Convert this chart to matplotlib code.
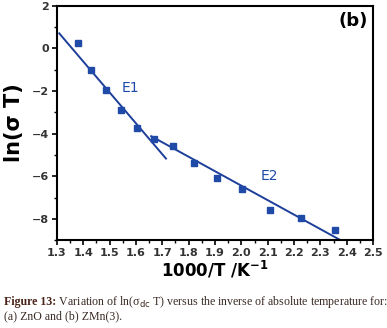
import matplotlib
matplotlib.use("Agg")
import matplotlib.pyplot as plt
import numpy as np
from matplotlib.ticker import MultipleLocator

# data
x_inv_T = [1.38, 1.43, 1.485, 1.542, 1.603, 1.668, 1.742, 1.821, 1.909, 2.004, 2.108, 2.226, 2.357]
ln_sigma_T = [0.24, -1.01, -1.95, -2.89, -3.73, -4.26, -4.59, -5.40, -6.06, -6.61, -7.60, -7.96, -8.51]

# fitted lines (endpoints in data units)
e1_x = [1.309, 1.714]
e1_y = [0.71, -5.17]
e2_x = [1.658, 2.376]
e2_y = [-4.12, -9.0]

blue = "#1f4aa8"
line_blue = "#1d3f9a"

fig = plt.figure(figsize=(3.87, 3.28), dpi=100)
ax = fig.add_axes([0.147, 0.268, 0.817, 0.714])

ax.plot(e1_x, e1_y, color=line_blue, lw=1.4)
ax.plot(e2_x, e2_y, color=line_blue, lw=1.4)
ax.plot(x_inv_T, ln_sigma_T, linestyle="none", marker="s", ms=5, color=blue)

ax.text(1.578, -1.86, "E1", color=blue, fontsize=10, ha="center", va="center")
ax.text(2.107, -5.98, "E2", color=blue, fontsize=10, ha="center", va="center")
ax.text(0.985, 0.975, "(b)", transform=ax.transAxes, fontsize=13, fontweight="bold",
        ha="right", va="top")

ax.set_xlim(1.3, 2.5)
ax.set_ylim(-9, 2)
ax.xaxis.set_major_locator(MultipleLocator(0.1))
ax.xaxis.set_minor_locator(MultipleLocator(0.05))
ax.yaxis.set_major_locator(MultipleLocator(2))
ax.yaxis.set_minor_locator(MultipleLocator(1))
ax.set_xticklabels([f"{v:.1f}" for v in ax.get_xticks()])
ax.tick_params(which="major", length=3.5, width=1.2, labelsize=8, pad=2)
ax.tick_params(which="minor", length=2, width=1.0)
for lab in ax.get_xticklabels() + ax.get_yticklabels():
    lab.set_fontweight("bold")
    lab.set_color("#333333")
for s in ax.spines.values():
    s.set_linewidth(1.5)

ax.set_xlabel("1000/T /K$^{\\mathbf{-1}}$", fontsize=12, fontweight="bold", labelpad=1)
ax.set_ylabel("ln(σ T)", fontsize=15, fontweight="bold", labelpad=6)

t1 = fig.text(0.010, 0.080, "Figure 13:", fontsize=8.6, fontweight="bold", family="Liberation Serif",
              color="#4a2418", va="center")
fig.text(0, 0.5, " Variation of ln(σ$_{\\mathrm{dc}}$ T) versus the inverse of absolute temperature for:",
         fontsize=8.6, family="Liberation Serif", color="#3a2a24", va="center",
         transform=matplotlib.transforms.blended_transform_factory(fig.transFigure, fig.transFigure))
fig.texts[-1].remove()
fig.add_artist(matplotlib.text.Annotation(
    " Variation of ln(σ$_{\\mathrm{dc}}$ T) versus the inverse of absolute temperature for:",
    xy=(1, 0.5), xycoords=t1, va="center", ha="left",
    fontsize=8.6, family="Liberation Serif", color="#3a2a24"))
fig.text(0.010, 0.037, "(a) ZnO and (b) ZMn(3).", fontsize=8.6, family="Liberation Serif",
         color="#3a2a24", va="center")

fig.savefig("out.png", dpi=100)
